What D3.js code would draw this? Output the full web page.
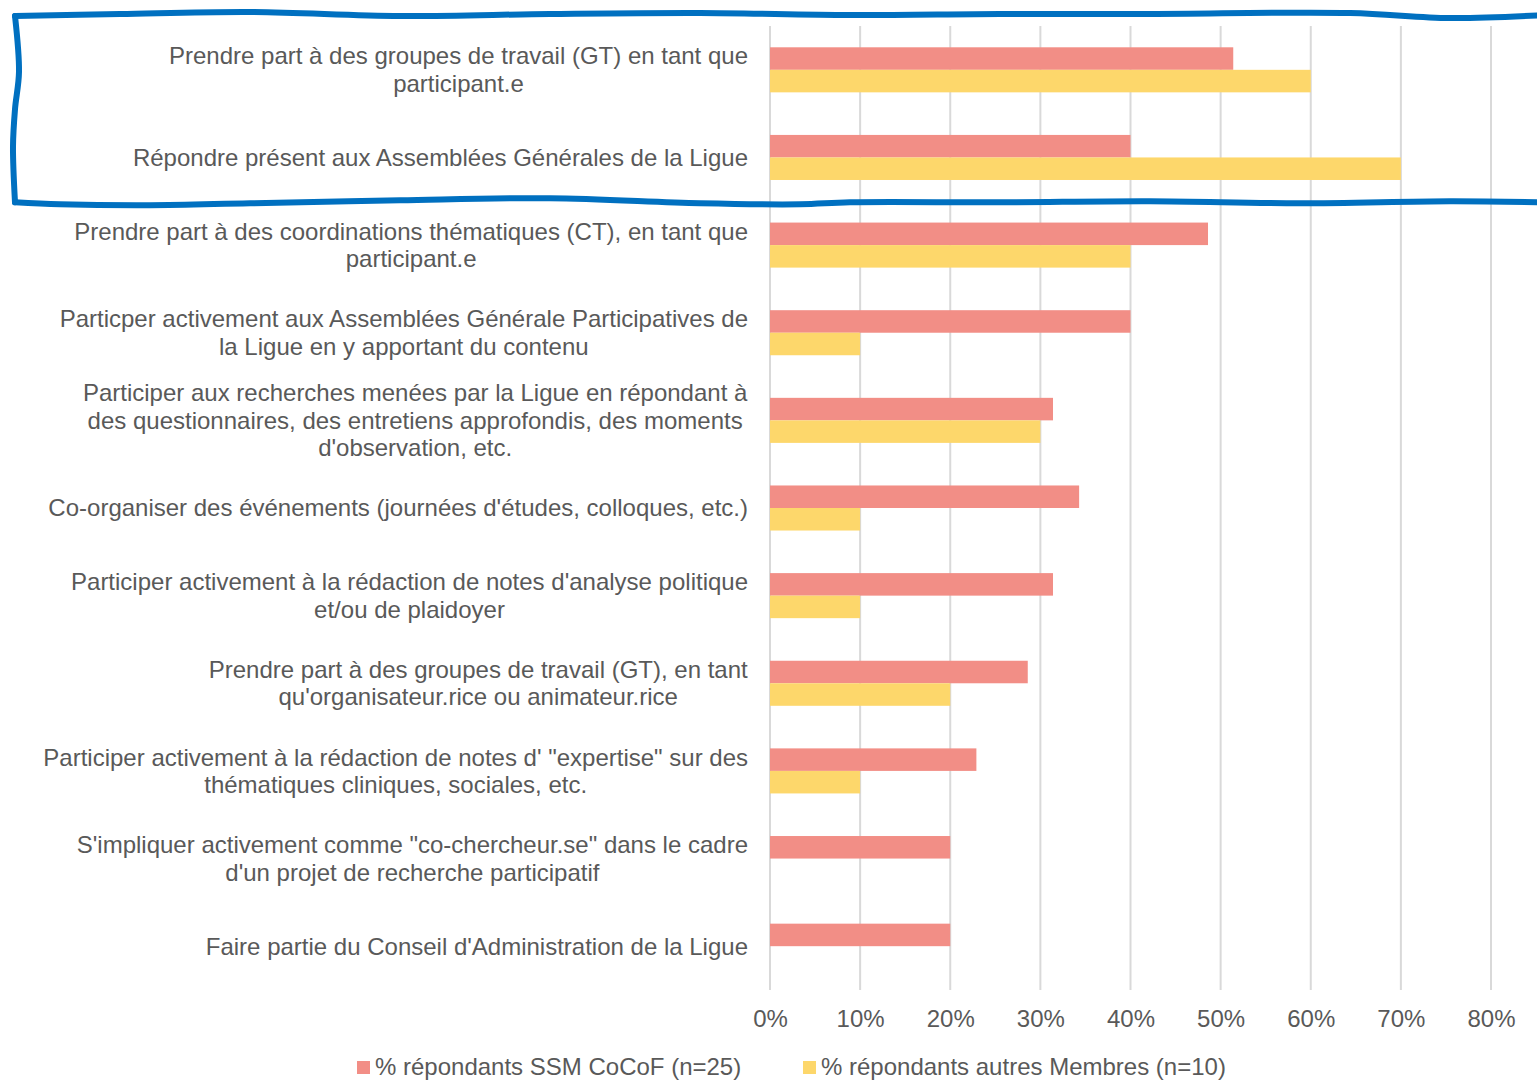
<!DOCTYPE html>
<html><head><meta charset="utf-8">
<script src="https://cdn.jsdelivr.net/npm/d3@7"></script>
<style>
html,body{margin:0;padding:0;background:#fff;}
svg{display:block;font-family:"Liberation Sans",Arial,sans-serif;}
</style></head>
<body><svg id="c" width="1537" height="1081"></svg>
<script>
const categories = [
  ["Prendre part à des groupes de travail (GT) en tant que", "participant.e"],
  ["Répondre présent aux Assemblées Générales de la Ligue"],
  ["Prendre part à des coordinations thématiques (CT), en tant que", "participant.e"],
  ["Particper activement aux Assemblées Générale Participatives de", "la Ligue en y apportant du contenu"],
  ["Participer aux recherches menées par la Ligue en répondant à", "des questionnaires, des entretiens approfondis, des moments", "d'observation, etc."],
  ["Co-organiser des événements (journées d'études, colloques, etc.)"],
  ["Participer activement à la rédaction de notes d'analyse politique", "et/ou de plaidoyer"],
  ["Prendre part à des groupes de travail (GT), en tant", "qu'organisateur.rice ou animateur.rice"],
  ["Participer activement à la rédaction de notes d' \"expertise\" sur des", "thématiques cliniques, sociales, etc."],
  ["S'impliquer activement comme \"co-chercheur.se\" dans le cadre", "d'un projet de recherche participatif"],
  ["Faire partie du Conseil d'Administration de la Ligue"]
];
const seriesNames = ["% répondants SSM CoCoF (n=25)", "% répondants autres Membres (n=10)"];
const ssmValues = [0.514, 0.40, 0.486, 0.40, 0.314, 0.343, 0.314, 0.286, 0.229, 0.20, 0.20];
const autresValues = [0.60, 0.70, 0.40, 0.10, 0.30, 0.10, 0.10, 0.20, 0.10, 0, 0];
const tickValues = [0, 0.1, 0.2, 0.3, 0.4, 0.5, 0.6, 0.7, 0.8];
const colors = ["#F28E86", "#FDD76B"];

const svg = d3.select("#c");
const fontSize = 24;
const textColor = "#595959";

const x = d3.scaleLinear().domain([0, 0.8]).range([770, 1491]);
const idx = categories.map((d, i) => i);
const y = d3.scaleBand().domain(idx).range([26, 990]).paddingInner(0.486).paddingOuter(0.243);
const ySub = d3.scaleBand().domain([0, 1]).range([0, y.bandwidth()]);

// gridlines
svg.append("g").selectAll("line").data(tickValues).join("line")
  .attr("x1", d => x(d)).attr("x2", d => x(d))
  .attr("y1", 26).attr("y2", 990)
  .attr("stroke", "#D9D9D9").attr("stroke-width", 2);

// bars
const series = [ssmValues, autresValues];
series.forEach((vals, s) => {
  svg.append("g").selectAll("rect").data(vals).join("rect")
    .attr("x", x(0))
    .attr("y", (d, i) => y(i) + ySub(s))
    .attr("width", d => x(d) - x(0))
    .attr("height", ySub.bandwidth())
    .attr("fill", colors[s]);
});

// category labels (centered lines, block right-aligned at 748)
const lineH = 27.5;
const lab = svg.append("g").attr("fill", textColor).attr("font-size", fontSize).attr("text-anchor", "middle");
categories.forEach((lines, i) => {
  const cy = y(i) + y.bandwidth() / 2;
  const t = lab.append("text").attr("y", cy - (lines.length - 1) * lineH / 2);
  lines.forEach((ln, k) => {
    t.append("tspan").attr("x", 0).attr("dy", k === 0 ? "0.35em" : lineH).text(ln);
  });
});
lab.selectAll("text").each(function () {
  const bb = this.getBBox();
  d3.select(this).attr("transform", `translate(${748 - (bb.x + bb.width)},0)`);
});

// x axis
const xAxis = d3.axisBottom(x).tickValues(tickValues).tickFormat(d3.format(".0%")).tickSize(0).tickPadding(0);
const ax = svg.append("g").attr("transform", "translate(0,1019)").call(xAxis);
ax.select(".domain").remove();
ax.selectAll("text").attr("font-size", fontSize).attr("fill", textColor)
  .attr("font-family", "Liberation Sans, Arial, sans-serif").attr("dy", "0.35em");

// legend
const leg = svg.append("g").attr("font-size", fontSize).attr("fill", textColor);
const legX = [357, 803];
seriesNames.forEach((n, s) => {
  leg.append("rect").attr("x", legX[s]).attr("y", 1061).attr("width", 13).attr("height", 13).attr("fill", colors[s]);
  leg.append("text").attr("x", legX[s] + 18).attr("y", 1067).attr("dy", "0.35em").text(n);
});

// blue hand-drawn annotation box around first two categories
const boxTop = y(0) - y.step() * y.paddingOuter() - 12;
const boxBot = y(1) + y.bandwidth() + y.step() * y.paddingInner() / 2 + 1;
const wobbleTop = [[15, 2], [120, 0], [250, -2], [400, 2], [550, 0], [700, -1], [850, 1], [1000, 0], [1150, 0], [1350, -1], [1450, 4], [1545, 1]];
const wobbleBot = [[1545, 0], [1450, -1], [1300, 1], [1150, -1], [1000, 0], [850, 0], [800, 2], [700, 1], [550, -4], [400, -2], [250, 1], [150, 3], [60, 2], [15, 0]];
const wobbleLeft = [[15, 0], [19, 0.3], [15, 0.5], [13, 0.7], [15, 1]];
const pathTB = d3.line().curve(d3.curveCatmullRom);
const blue = "#0070C0";
svg.append("path").attr("d", pathTB(wobbleTop.map(([px, o]) => [px, boxTop + o])))
  .attr("fill", "none").attr("stroke", blue).attr("stroke-width", 6).attr("stroke-linecap", "round");
svg.append("path").attr("d", pathTB(wobbleBot.map(([px, o]) => [px, boxBot + o])))
  .attr("fill", "none").attr("stroke", blue).attr("stroke-width", 6).attr("stroke-linecap", "round");
svg.append("path").attr("d", pathTB(wobbleLeft.map(([px, f]) => [px, boxTop + 2 + f * (boxBot - boxTop - 2)])))
  .attr("fill", "none").attr("stroke", blue).attr("stroke-width", 6).attr("stroke-linecap", "round");
</script>
</body></html>
